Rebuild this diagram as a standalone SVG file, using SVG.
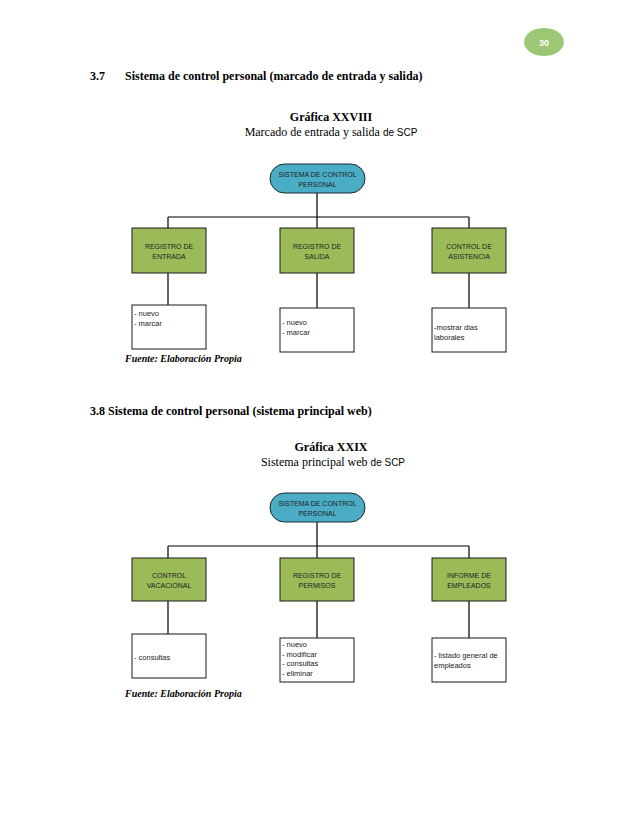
<svg xmlns="http://www.w3.org/2000/svg" width="638" height="826" viewBox="0 0 638 826">
<style>
.bg{fill:#ffffff}
.root{fill:#4bacc6;stroke:#1a2a30;stroke-width:1}
.cat{fill:#9bbb59;stroke:#1a1a1a;stroke-width:1}
.leaf{fill:#ffffff;stroke:#1a1a1a;stroke-width:1}
.conn{fill:none;stroke:#000;stroke-width:1.2}
.node{font-family:"Liberation Sans","Open Sans",sans-serif;font-size:7px;fill:#222222}
.lt{font-size:7.5px}
.c{text-anchor:middle}
.h{font-family:"Liberation Serif","Times New Roman",serif;font-weight:bold;font-size:12px;fill:#000}
.sub{font-family:"Liberation Serif","Times New Roman",serif;font-size:12px;fill:#000}
.scp{font-family:"Liberation Sans","Open Sans",sans-serif;font-size:10px}
.src{font-family:"Liberation Serif","Times New Roman",serif;font-weight:bold;font-style:italic;font-size:10px;fill:#000}
</style>
<rect class="bg" x="0" y="0" width="638" height="826"/>
<g id="page-number">
<ellipse cx="544" cy="42" rx="20" ry="14" fill="#9cc875"/>
<text x="544" y="45.5" text-anchor="middle" font-family="Liberation Sans, sans-serif" font-weight="bold" font-size="9" fill="#ffffff">30</text>
</g>
<g id="heading-37">
<text class="h" x="90" y="80">3.7</text>
<text class="h" x="125" y="80">Sistema de control personal (marcado de entrada y salida)</text>
</g>
<g id="caption-28">
<text class="h c" x="331" y="121">Gráfica XXVIII</text>
<text class="sub c" x="331" y="136">Marcado de entrada y salida <tspan class="scp">de SCP</tspan></text>
</g>
<g id="connectors-1">
<path class="conn" d="M317 193V217M168 217H469M168 217V228M317 217V228M469 217V228M168 273V305M317 273V308M469 273V308"/>
</g>
<g id="n1-root">
<rect class="root" x="270" y="164" width="95" height="29" rx="14.5"/>
<text class="node c" x="317.5" y="177">SISTEMA DE CONTROL</text>
<text class="node c" x="317.5" y="187">PERSONAL</text>
</g>
<g id="n1-entrada">
<rect class="cat" x="132" y="228" width="74" height="45"/>
<text class="node c" x="169" y="249">REGISTRO DE</text>
<text class="node c" x="169" y="259">ENTRADA</text>
</g>
<g id="n1-salida">
<rect class="cat" x="280" y="228" width="74" height="45"/>
<text class="node c" x="317" y="249">REGISTRO DE</text>
<text class="node c" x="317" y="259">SALIDA</text>
</g>
<g id="n1-asistencia">
<rect class="cat" x="432" y="228" width="74" height="45"/>
<text class="node c" x="469" y="249">CONTROL DE</text>
<text class="node c" x="469" y="259">ASISTENCIA</text>
</g>
<g id="n1-entrada-ops">
<rect class="leaf" x="132" y="305" width="74" height="44"/>
<text class="node lt" x="134" y="316">- nuevo</text>
<text class="node lt" x="134" y="326">- marcar</text>
</g>
<g id="n1-salida-ops">
<rect class="leaf" x="280" y="308" width="74" height="44"/>
<text class="node lt" x="282" y="325">- nuevo</text>
<text class="node lt" x="282" y="335">- marcar</text>
</g>
<g id="n1-asistencia-ops">
<rect class="leaf" x="432" y="308" width="74" height="44"/>
<text class="node lt" x="434" y="330">-mostrar dias</text>
<text class="node lt" x="434" y="340">laborales</text>
</g>
<text class="src" x="125" y="362">Fuente: Elaboración Propia</text>

<g id="heading-38">
<text class="h" x="90" y="415">3.8 Sistema de control personal (sistema principal web)</text>
</g>
<g id="caption-29">
<text class="h c" x="331" y="451">Gráfica XXIX</text>
<text class="sub c" x="333" y="466">Sistema principal web <tspan class="scp">de SCP</tspan></text>
</g>
<g id="connectors-2">
<path class="conn" d="M317 522V546M168 546H469M168 546V558M317 546V558M469 546V558M168 601V634M317 601V638M469 601V638"/>
</g>
<g id="n2-root">
<rect class="root" x="270" y="493" width="95" height="29" rx="14.5"/>
<text class="node c" x="317.5" y="506">SISTEMA DE CONTROL</text>
<text class="node c" x="317.5" y="516">PERSONAL</text>
</g>
<g id="n2-vacacional">
<rect class="cat" x="132" y="558" width="74" height="43"/>
<text class="node c" x="169" y="578">CONTROL</text>
<text class="node c" x="169" y="588">VACACIONAL</text>
</g>
<g id="n2-permisos">
<rect class="cat" x="280" y="558" width="74" height="43"/>
<text class="node c" x="317" y="578">REGISTRO DE</text>
<text class="node c" x="317" y="588">PERMISOS</text>
</g>
<g id="n2-empleados">
<rect class="cat" x="432" y="558" width="74" height="43"/>
<text class="node c" x="469" y="578">INFORME DE</text>
<text class="node c" x="469" y="588">EMPLEADOS</text>
</g>
<g id="n2-vacacional-ops">
<rect class="leaf" x="132" y="634" width="74" height="44"/>
<text class="node lt" x="134" y="660">- consultas</text>
</g>
<g id="n2-permisos-ops">
<rect class="leaf" x="280" y="638" width="74" height="44"/>
<text class="node lt" x="282" y="647">- nuevo</text>
<text class="node lt" x="282" y="657">- modificar</text>
<text class="node lt" x="282" y="666">- consultas</text>
<text class="node lt" x="282" y="676">- eliminar</text>
</g>
<g id="n2-empleados-ops">
<rect class="leaf" x="432" y="638" width="74" height="44"/>
<text class="node lt" x="434" y="658">- listado general de</text>
<text class="node lt" x="434" y="668">empleados</text>
</g>
<text class="src" x="125" y="697">Fuente: Elaboración Propia</text>
</svg>
